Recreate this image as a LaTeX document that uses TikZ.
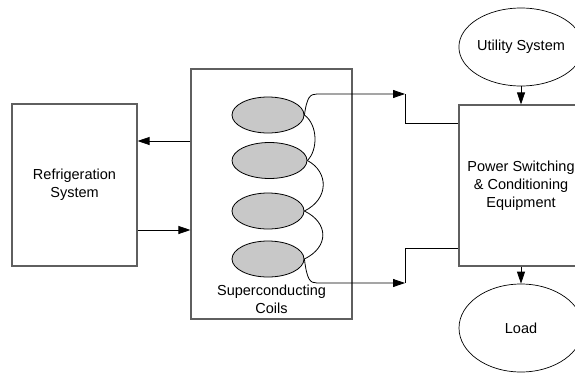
\documentclass[tikz,border=0pt]{standalone}
\usepackage{fontspec}
\setmainfont{Liberation Sans}
\usetikzlibrary{shapes.geometric,arrows.meta}
\definecolor{boxline}{RGB}{95,95,95}
\definecolor{coilfill}{RGB}{200,200,200}
\begin{document}
\begin{tikzpicture}[x=1pt,y=-1pt,
  every node/.style={font=\fontsize{14.5}{18}\selectfont, align=center, inner sep=0pt},
  block/.style={draw=boxline, line width=1.1pt, rectangle},
  oval/.style={draw=black, line width=0.7pt, ellipse},
  coil/.style={draw=black, line width=0.8pt, fill=coilfill, ellipse, minimum width=72pt, minimum height=36pt},
  wire/.style={draw=black, line width=0.8pt},
  tip/.style={-{Triangle[length=12pt,width=8pt]}}
]
\useasboundingbox (0,0) rectangle (575,372);
\clip (0,0) rectangle (575,372);

% main blocks
\node[block, minimum width=125pt, minimum height=162pt] (fridge) at (74.5,185) {Refrigeration\\System};
\node[block, minimum width=161pt, minimum height=250pt] (smes) at (271.5,194) {};
\node at (271.5,299) {Superconducting\\Coils};
\node[block, minimum width=124pt, minimum height=161pt] (pcs) at (521,185.5) {Power Switching\\\& Conditioning\\Equipment};

% source and load
\node[oval, minimum width=122pt, minimum height=78pt] (util) at (521,47) {Utility System};
\node[oval, minimum width=124pt, minimum height=88pt] (load) at (521,328) {Load};

% coil stack
\node[coil] (c1) at (268,115) {};
\node[coil, minimum width=75pt] (c2) at (269.5,160.5) {};
\node[coil] (c3) at (268,211) {};
\node[coil] (c4) at (268,259) {};

% series connections between coils
\draw[wire] (c1.east) .. controls (318,125) and (318,150) .. (c2.east);
\draw[wire] (c2.east) .. controls (329,172) and (329,199) .. (c3.east);
\draw[wire] (c3.east) .. controls (329,223) and (329,247) .. (c4.east);

% coil leads to the power equipment
\coordinate (topbend) at (405,94);
\coordinate (botbend) at (405,283);
\draw[wire, tip] (c1.east) .. controls (307,97) and (310,94) .. (317,94) -- (topbend);
\draw[wire] (topbend) -- (405,123) -- (pcs.west |- 0,123);
\draw[wire, tip] (c4.east) .. controls (307,280) and (310,283) .. (317,283) -- (botbend);
\draw[wire] (botbend) -- (405,248) -- (pcs.west |- 0,248);

% cooling loop
\draw[wire, tip] (smes.west |- 0,141) -- (fridge.east |- 0,141);
\draw[wire, tip] (fridge.east |- 0,230) -- (smes.west |- 0,230);

% utility feed and load supply
\draw[wire, tip] (util.south) -- (pcs.north);
\draw[wire, tip] (pcs.south) -- (load.north);
\end{tikzpicture}
\end{document}
